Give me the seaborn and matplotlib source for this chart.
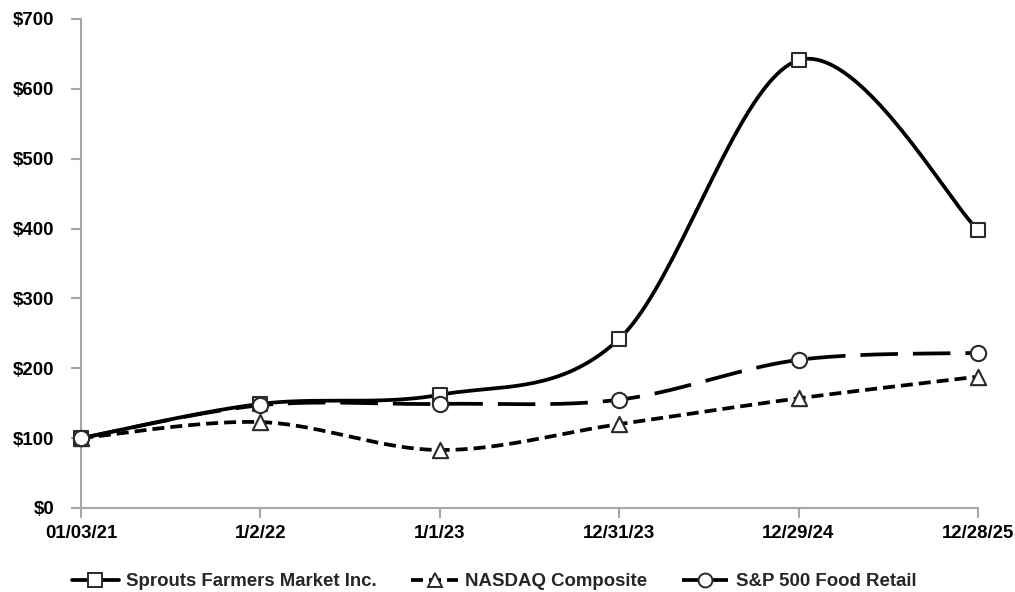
import numpy as np
import pandas as pd
import matplotlib
matplotlib.use("Agg")
import matplotlib.pyplot as plt
import seaborn as sns

dates = ["01/03/21", "1/2/22", "1/1/23", "12/31/23", "12/29/24", "12/28/25"]
sprouts = [100, 149, 162, 242, 641, 398]
nasdaq = [100, 123, 83, 120, 157, 188]
sp_food = [100, 147, 149, 155, 212, 222]
series_names = ["Sprouts Farmers Market Inc.", "NASDAQ Composite", "S&P 500 Food Retail"]
yticks = [0, 100, 200, 300, 400, 500, 600, 700]

sns.set_theme(style="white")
plt.rcParams['font.family'] = ['Liberation Sans', 'DejaVu Sans']
FS = 13.4


def smooth(xs, ys, n=40):
    """Excel-like smoothed line: cubic Bezier with Catmull-Rom control points."""
    xs = np.asarray(xs, float)
    ys = np.asarray(ys, float)
    P = np.column_stack([xs, ys])
    out = []
    m = len(P)
    for i in range(m - 1):
        p0 = P[i - 1] if i > 0 else P[i]
        p1 = P[i]
        p2 = P[i + 1]
        p3 = P[i + 2] if i + 2 < m else P[i + 1]
        c1 = p1 + (p2 - p0) / 6.0
        c2 = p2 - (p3 - p1) / 6.0
        t = np.linspace(0, 1, n, endpoint=(i == m - 2))[:, None]
        pts = ((1 - t) ** 3) * p1 + 3 * ((1 - t) ** 2) * t * c1 + 3 * (1 - t) * t ** 2 * c2 + t ** 3 * p2
        out.append(pts)
    out = np.vstack(out)
    return out[:, 0], out[:, 1]


fig = plt.figure(figsize=(10.15, 5.92), dpi=100)
ax = fig.add_axes([0.0798, 0.1419, 0.9635 - 0.0798, 0.968 - 0.1419])

xpos = np.arange(len(dates))
styles = [
    dict(values=sprouts, ls="-", dashes=None, marker="s", ms=10.5),
    dict(values=nasdaq, ls="--", dashes=(3.2, 1.6), marker="^", ms=11),
    dict(values=sp_food, ls="--", dashes=(10, 4), marker="o", ms=11),
]

handles = []
for name, st in zip(series_names, styles):
    cx, cy = smooth(xpos, st["values"])
    df = pd.DataFrame({"x": cx, "y": cy})
    sns.lineplot(data=df, x="x", y="y", ax=ax, color="black", lw=2.7, sort=False,
                 estimator=None, legend=False)
    line = ax.get_lines()[-1]
    if st["dashes"] is not None:
        line.set_dashes(st["dashes"])
    dfp = pd.DataFrame({"x": xpos, "y": st["values"]})
    sns.scatterplot(data=dfp, x="x", y="y", ax=ax, marker=st["marker"], s=st["ms"] ** 2,
                    facecolor="white", edgecolor="#2a2a2a", linewidth=1.5, zorder=5,
                    legend=False, clip_on=False)
    h = plt.Line2D([], [], color="black", lw=2.7, ls=st["ls"], marker=st["marker"],
                   markersize=10, markerfacecolor="white", markeredgecolor="#2a2a2a",
                   markeredgewidth=1.4)
    if st["dashes"] is not None:
        h.set_dashes((3.2, 1.6) if st["marker"] == "^" else (5, 2.5))
    handles.append(h)

ax.set_xlim(0, 5)
ax.set_ylim(0, 700)
ax.set_xticks(xpos)
ax.set_xticklabels(dates)
ax.set_yticks(yticks)
ax.set_yticklabels([f"${v}" for v in yticks])
ax.set_xlabel("")
ax.set_ylabel("")
for lab in ax.get_xticklabels() + ax.get_yticklabels():
    lab.set_fontweight("bold")
    lab.set_fontsize(FS)
    lab.set_color("black")

for s in ["top", "right"]:
    ax.spines[s].set_visible(False)
for s in ["left", "bottom"]:
    ax.spines[s].set_color("#a6a6a6")
    ax.spines[s].set_linewidth(1.5)
ax.tick_params(axis="both", which="major", direction="out", length=7, width=1.5,
               color="#a6a6a6", left=True, bottom=True)
ax.tick_params(axis="y", pad=12)
ax.tick_params(axis="x", pad=5)

leg = fig.legend(handles, series_names, loc="center", bbox_to_anchor=(0.487, 0.017),
                 ncol=3, frameon=False, handlelength=2.5, columnspacing=1.85,
                 handletextpad=0.4, prop=dict(weight="bold", size=FS))

fig.savefig("out.png", dpi=100, facecolor="white")
